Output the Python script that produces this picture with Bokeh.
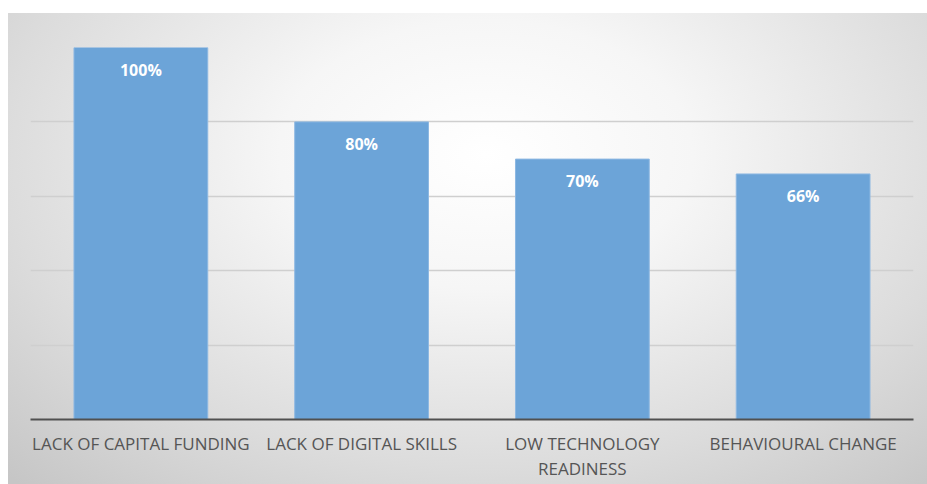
from bokeh.plotting import figure
from bokeh.models import ColumnDataSource, FixedTicker, FactorRange, Range1d
from bokeh.core.properties import value
from bokeh.embed import file_html
from bokeh.resources import INLINE

categories = ["LACK OF CAPITAL FUNDING", "LACK OF DIGITAL SKILLS",
              "LOW TECHNOLOGY\nREADINESS", "BEHAVIOURAL CHANGE"]
values = [100, 80, 70, 66]
value_labels = ["100%", "80%", "70%", "66%"]
grid_ticks = [0, 20, 40, 60, 80, 100]

src = ColumnDataSource(dict(cat=categories, val=values, lab=value_labels))

p = figure(width=919, height=471, x_range=FactorRange(*categories, range_padding=0),
           y_range=Range1d(0, 100), output_backend="svg", toolbar_location=None,
           min_border_left=22, min_border_right=14, min_border_top=34, min_border_bottom=65)
p.margin = (13, 0, 0, 8)
p.styles = {"background": "radial-gradient(ellipse 75% 95% at 52% 30%, #ffffff 0%, #f6f6f6 30%, #dcdcdc 70%, #c6c6c6 100%)"}
p.border_fill_color = None
p.background_fill_color = None
p.outline_line_color = None

p.vbar(x="cat", top="val", width=0.606, source=src, fill_color="#6CA4D8",
       line_color="#8DB8E2", line_width=1)
p.text(x="cat", y="val", text="lab", source=src, text_color="white",
       text_font=value("Open Sans"), text_font_style="bold", text_font_size="16px",
       text_align="center", text_baseline="middle", y_offset=22)

p.yaxis.visible = False
p.xgrid.grid_line_color = None
p.ygrid.ticker = FixedTicker(ticks=grid_ticks)
p.ygrid.grid_line_color = "#cfcfcf"
p.ygrid.grid_line_width = 1.5

ax = p.xaxis[0]
ax.axis_line_color = "#505050"
ax.axis_line_width = 2
ax.major_tick_line_color = None
ax.minor_tick_line_color = None
ax.major_label_text_font = "Open Sans"
ax.major_label_text_font_size = "17px"
ax.major_label_text_color = "#555555"
ax.major_label_standoff = 6
ax.major_label_text_line_height = 1.1

open("out.html", "w").write(file_html(p, INLINE))
